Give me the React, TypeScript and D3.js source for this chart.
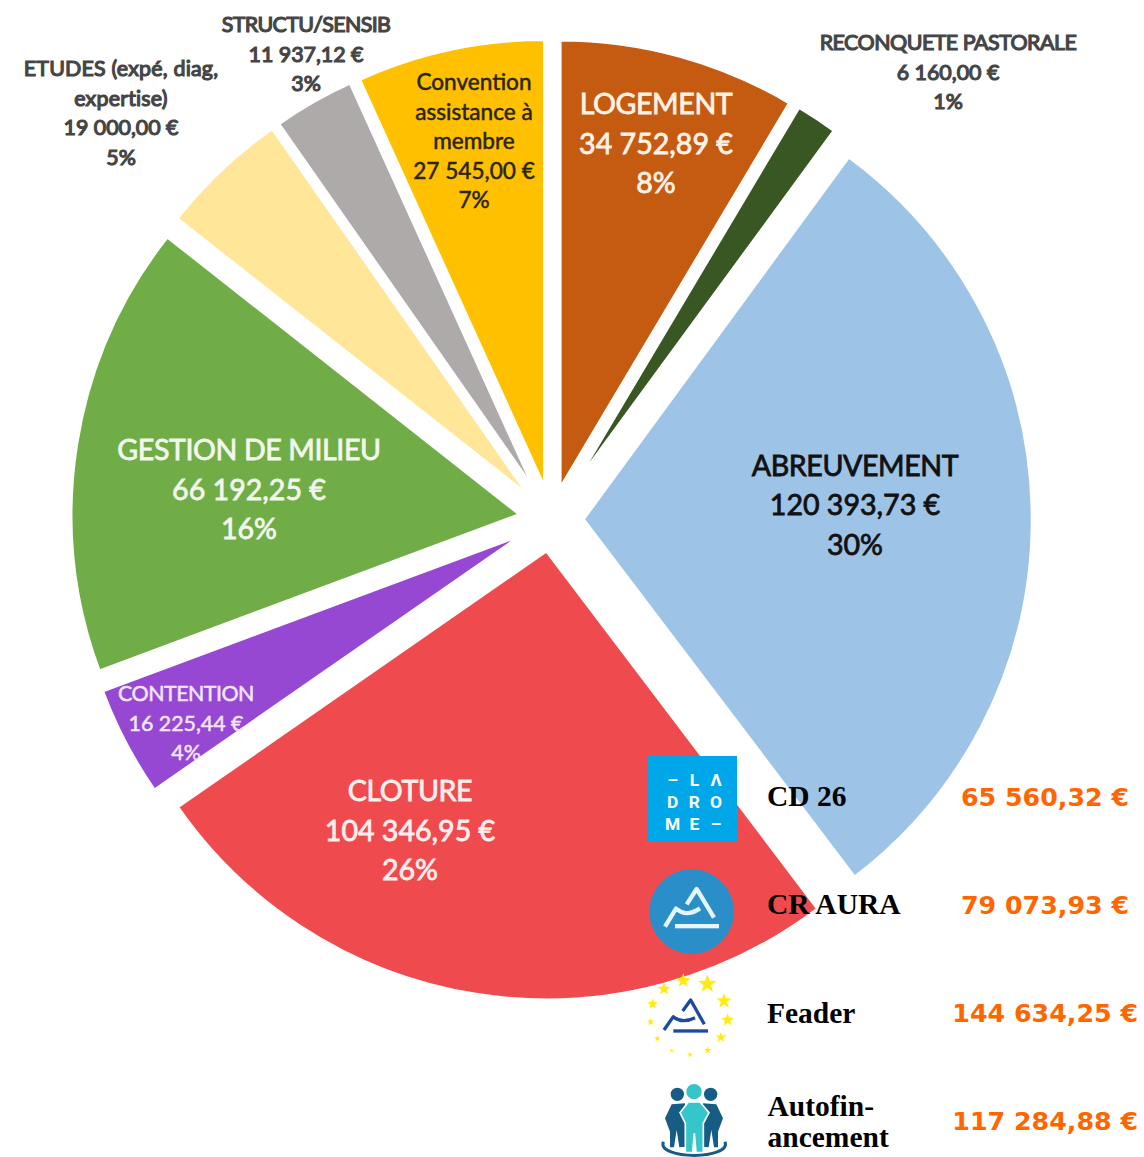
import React from "react";
import * as d3 from "d3";

const categories = ["LOGEMENT", "RECONQUETE PASTORALE", "ABREUVEMENT", "CLOTURE", "CONTENTION", "GESTION DE MILIEU", "ETUDES", "STRUCTU/SENSIB", "Convention"];
const amounts = [34752.89, 6160, 120393.73, 104346.95, 16225.44, 66192.25, 19000, 11937.12, 27545];
const shares = ["8%", "1%", "30%", "26%", "4%", "16%", "5%", "3%", "7%"];
const sliceColors = ["#c55a11", "#385723", "#9dc3e6", "#ef4b4f", "#9748d3", "#70ad47", "#ffe699", "#aeaaaa", "#ffc000"];
const nameLines = [["LOGEMENT"], ["RECONQUETE PASTORALE"], ["ABREUVEMENT"], ["CLOTURE"], ["CONTENTION"], ["GESTION DE MILIEU"], ["ETUDES (expé, diag,", "expertise)"], ["STRUCTU/SENSIB"], ["Convention", "assistance à", "membre"]];

const funders = ["CD 26", "CR AURA", "Feader", "Autofin-|ancement"];
const funderAmounts = ["65 560,32 €", "79 073,93 €", "144 634,25 €", "117 284,88 €"];

const cx = 551.5, cy = 519.5, R = 449.5, explode = 31.5;

// label placement: x centre, y of first baseline, size, line gap, colour, stroke, name tracking
const labelStyle = [
  { x: 656, y: 114, fs: 28.6, gap: 39.5, c: "#fff3e8", sw: 0.8, ls: -0.4 },
  { x: 948, y: 50, fs: 21.4, gap: 29.5, c: "#454545", sw: 1.2, ls: -0.5 },
  { x: 855, y: 476, fs: 28.6, gap: 39.3, c: "#111", sw: 0.8, ls: -0.4 },
  { x: 410, y: 801, fs: 28.6, gap: 39.5, c: "#fdeeee", sw: 0.8, ls: -0.4 },
  { x: 186, y: 701, fs: 21.4, gap: 29.5, c: "#f3e6fb", sw: 0.5, ls: -0.5 },
  { x: 249, y: 460, fs: 28.6, gap: 39.5, c: "#f2f8ee", sw: 0.8, ls: -0.4 },
  { x: 121, y: 76, fs: 21.4, gap: 29.5, c: "#454545", sw: 1.2, ls: 0.2 },
  { x: 306, y: 32, fs: 21.4, gap: 29.5, c: "#454545", sw: 1.2, ls: -0.6 },
  { x: 474, y: 90, fs: 22.6, gap: 29.5, c: "#2a2410", sw: 0.5, ls: 0 },
];

const rowY = [806, 914, 1023, 1130];

const money = d3.formatLocale({ decimal: ",", thousands: " ", grouping: [3], currency: ["", " €"] }).format("$,.2f");

const mountain = "M105 560 L138 506 C155 520 175 528 210 505 M170 493 L200 447 L252 533";
const mountainSmall = "M102 870 L130 830 C145 843 165 848 195 833 M158 813 L182 780 L223 853";
const stars: [number, number, number][] = [[232, 732, 29], [160, 722, 23], [102, 747, 20], [68, 792, 17], [62, 846, 12], [82, 896, 10], [125, 932, 7], [180, 944, 9], [233, 931, 12], [273, 892, 17], [293, 840, 20], [282, 783, 24]];

function starPath(x: number, y: number, r: number) {
  const pts: string[] = [];
  for (let i = 0; i < 10; i++) {
    const a = -Math.PI / 2 + (i * Math.PI) / 5;
    const q = i % 2 ? r * 0.42 : r;
    pts.push(`${x + q * Math.cos(a)},${y + q * Math.sin(a)}`);
  }
  return "M" + pts.join("L") + "Z";
}

export default function App() {
  const pie = d3.pie<number>().sort(null).value((d) => d);
  const arcs = pie(amounts);
  const arc = d3.arc<d3.PieArcDatum<number>>().innerRadius(0).outerRadius(R);
  const font = "Lato, Carlito, 'Open Sans', sans-serif";
  return (
    <svg width={1144} height={1157} viewBox="0 0 1144 1157" style={{ position: "absolute", left: 0, top: 0, background: "#fff" }}>
      {arcs.map((a, i) => {
        const mid = (a.startAngle + a.endAngle) / 2;
        const dx = explode * Math.sin(mid);
        const dy = -explode * Math.cos(mid);
        return <path key={categories[i]} d={arc(a) || ""} fill={sliceColors[i]} stroke="#fff" strokeWidth={3.5} strokeLinejoin="miter" strokeMiterlimit={40} transform={`translate(${cx + dx},${cy + dy})`} />;
      })}
      {arcs.map((_, i) => {
        const st = labelStyle[i];
        const names = nameLines[i];
        const lines = [...names, money(amounts[i]), shares[i]];
        return (
          <text key={i} textAnchor="middle" fontFamily={font} fontSize={st.fs} fontWeight={400} fill={st.c} stroke={st.c} strokeWidth={st.sw}>
            {lines.map((l, j) => (
              <tspan key={j} x={st.x} y={st.y + j * st.gap} letterSpacing={j < names.length ? st.ls : 0}>{l}</tspan>
            ))}
          </text>
        );
      })}

      <g transform="translate(630,740) scale(0.3333)">
        <rect x={53} y={48} width={268} height={257} fill="#00a7e8" />
        <g fill="#fff" fontFamily="Roboto, 'Liberation Sans', sans-serif" fontWeight={700} fontSize={52} textAnchor="middle">
          <text x={128} y={137}>–</text><text x={193} y={137}>L</text><text x={258} y={137}>Λ</text>
          <text x={128} y={203}>D</text><text x={193} y={203}>R</text><text x={258} y={203}>O</text>
          <text x={128} y={269}>M</text><text x={193} y={269}>E</text><text x={258} y={269}>–</text>
        </g>
        <circle cx={185} cy={515} r={127} fill="#2a8fc9" />
        <path d={mountain} fill="none" stroke="#e6f4fb" strokeWidth={13} strokeLinejoin="round" />
        <rect x={135} y={552} width={132} height={13} fill="#e6f4fb" />
        {stars.map(([x, y, r], i) => <path key={i} d={starPath(x, y, r)} fill="#ffeb14" />)}
        <path d={mountainSmall} fill="none" stroke="#1d4a9c" strokeWidth={10} strokeLinejoin="round" />
        <rect x={130} y={868} width={104} height={10} fill="#1d4a9c" />
      </g>

      <g transform="translate(640,1070) scale(0.3333)">
        <circle cx={112} cy={73} r={20} fill="#175c85" />
        <circle cx={212} cy={73} r={20} fill="#175c85" />
        <path d="M75 145 L95 103 L135 100 L140 230 L118 232 L110 180 L102 232 L90 232 L90 185 Z" fill="#175c85" />
        <path d="M249 145 L229 103 L189 100 L184 230 L206 232 L214 180 L222 232 L234 232 L234 185 Z" fill="#175c85" />
        <path d="M120 128 L145 96 L180 96 L207 128 L190 160 L190 248 L168 248 L163 190 L158 248 L136 248 L136 160 Z" fill="#36c5c9" stroke="#fff" strokeWidth={5} />
        <circle cx={162} cy={65} r={23} fill="#36c5c9" />
        <path d="M70 215 C50 270 275 270 255 215" fill="none" stroke="#175c85" strokeWidth={9} />
      </g>

      {funders.map((f, i) => {
        const parts = f.split("|");
        return (
          <g key={f}>
            <text fontFamily="'Liberation Serif', serif" fontWeight={700} fontSize={29.5} fill="#000">
              {parts.length === 1
                ? <tspan x={767} y={rowY[i]}>{f}</tspan>
                : parts.map((p, j) => <tspan key={j} x={767.5} y={1115.5 + j * 31}>{p}</tspan>)}
            </text>
            <text x={i < 2 ? 1129 : 1138} y={[806, 914, 1022, 1130][i]} textAnchor="end" fontFamily="'DejaVu Sans', sans-serif" fontWeight={700} fontSize={25.3} fill="#ff6600">
              {funderAmounts[i]}
            </text>
          </g>
        );
      })}
    </svg>
  );
}
